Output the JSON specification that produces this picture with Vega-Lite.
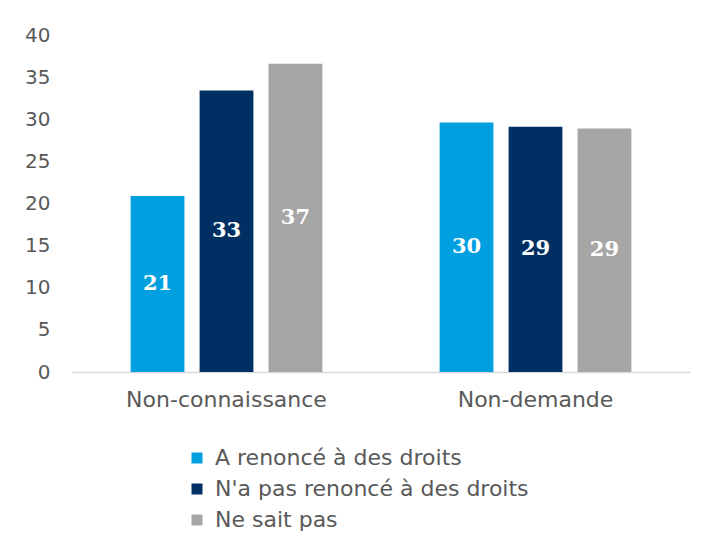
{
  "$schema": "https://vega.github.io/schema/vega-lite/v6.json",
  "width": 618,
  "height": 337,
  "autosize": "none",
  "padding": {"left": 72, "top": 35, "right": 14, "bottom": 166},
  "background": "white",
  "config": {
    "view": {"stroke": null},
    "font": "DejaVu Sans"
  },
  "data": {
    "values": [
      {"cat": "Non-connaissance", "serie": "A renoncé à des droits", "value": 20.9},
      {"cat": "Non-connaissance", "serie": "N'a pas renoncé à des droits", "value": 33.4},
      {"cat": "Non-connaissance", "serie": "Ne sait pas", "value": 36.6},
      {"cat": "Non-demande", "serie": "A renoncé à des droits", "value": 29.6},
      {"cat": "Non-demande", "serie": "N'a pas renoncé à des droits", "value": 29.1},
      {"cat": "Non-demande", "serie": "Ne sait pas", "value": 28.9}
    ]
  },
  "encoding": {
    "x": {
      "field": "cat", "type": "nominal", "sort": ["Non-connaissance", "Non-demande"],
      "scale": {"paddingInner": 0, "paddingOuter": 0},
      "axis": {
        "title": null, "labelAngle": 0, "ticks": false, "domainColor": "#D9D9D9", "domainWidth": 1.5,
        "labelFontSize": 22, "labelColor": "#595959", "labelPadding": 17, "labelFont": "DejaVu Sans", "labelLimit": 0
      }
    },
    "xOffset": {
      "field": "serie", "type": "nominal",
      "sort": ["A renoncé à des droits", "N'a pas renoncé à des droits", "Ne sait pas"],
      "scale": {"paddingInner": 0.22, "paddingOuter": 0.85}
    }
  },
  "layer": [
    {
      "mark": {"type": "bar"},
      "encoding": {
        "y": {
          "field": "value", "type": "quantitative",
          "scale": {"domain": [0, 40]},
          "axis": {
            "title": null, "values": [0, 5, 10, 15, 20, 25, 30, 35, 40], "grid": false, "ticks": false, "domain": false,
            "labelFontSize": 20, "labelColor": "#595959", "labelPadding": 22, "labelFont": "DejaVu Sans"
          }
        },
        "color": {
          "field": "serie", "type": "nominal",
          "sort": ["A renoncé à des droits", "N'a pas renoncé à des droits", "Ne sait pas"],
          "scale": {
            "domain": ["A renoncé à des droits", "N'a pas renoncé à des droits", "Ne sait pas"],
            "range": ["#009FDF", "#003063", "#A6A6A6"]
          },
          "legend": {
            "title": null, "orient": "none", "legendX": 114, "legendY": 412,
            "symbolType": "square", "symbolSize": 121, "symbolStrokeWidth": 0,
            "labelFontSize": 22, "labelColor": "#595959", "labelFont": "DejaVu Sans", "labelLimit": 0,
            "labelOffset": 7, "rowPadding": 9
          }
        }
      }
    },
    {
      "mark": {"type": "text", "color": "white", "font": "DejaVu Serif", "fontWeight": "bold", "fontSize": 21, "baseline": "middle"},
      "encoding": {
        "y": {"field": "value", "type": "quantitative", "scale": {"domain": [0, 80]}, "axis": null},
        "text": {"field": "value", "type": "quantitative", "format": ".0f"}
      }
    }
  ],
  "resolve": {"scale": {"y": "independent"}}
}
